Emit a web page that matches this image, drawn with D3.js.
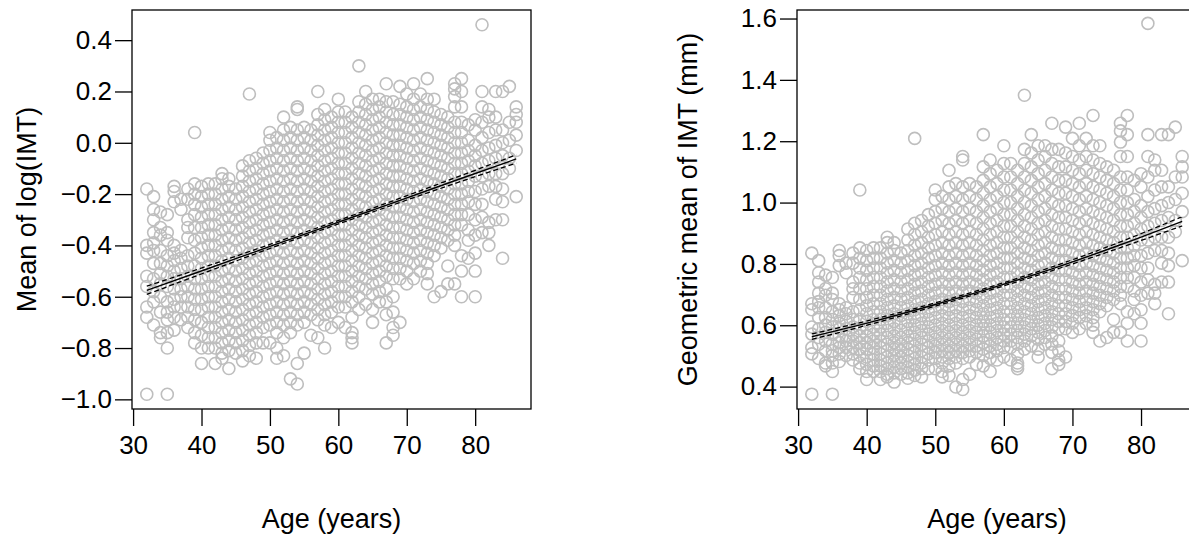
<!DOCTYPE html>
<html>
<head>
<meta charset="utf-8">
<script src="https://cdn.jsdelivr.net/npm/d3@7"></script>
<style>
  body { margin: 0; background: #fff; }
  text { font-family: "Liberation Sans", Arial, sans-serif; fill: #000; }
</style>
</head>
<body>
<svg id="chart" width="1189" height="535"></svg>
<script>
// mean log(IMT) per subject, grouped by age (years)
const ageRows = [
  [32, "-0.18 -0.40 -0.43 -0.52 -0.56 -0.64 -0.68 -0.98"],
  [33, "-0.21 -0.26 -0.30 -0.35 -0.39 -0.42 -0.47 -0.53 -0.58 -0.62 -0.71"],
  [34, "-0.27 -0.33 -0.36 -0.42 -0.47 -0.51 -0.55 -0.60 -0.66 -0.74 -0.76"],
  [35, "-0.28 -0.35 -0.38 -0.44 -0.48 -0.52 -0.56 -0.62 -0.66 -0.69 -0.74 -0.80 -0.98"],
  [36, "-0.17 -0.19 -0.23 -0.40 -0.43 -0.46 -0.50 -0.53 -0.57 -0.61 -0.64 -0.68 -0.73"],
  [37, "-0.22 -0.26 -0.42 -0.45 -0.49 -0.53 -0.57 -0.60 -0.64 -0.69"],
  [38, "-0.18 -0.22 -0.30 -0.33 -0.37 -0.44 -0.48 -0.52 -0.56 -0.60 -0.64 -0.68 -0.72"],
  [39, "0.04 -0.16 -0.20 -0.24 -0.28 -0.33 -0.38 -0.43 -0.48 -0.53 -0.57 -0.61 -0.65 -0.69 -0.74 -0.78"],
  [40, "-0.17 -0.21 -0.25 -0.29 -0.33 -0.37 -0.41 -0.45 -0.49 -0.53 -0.57 -0.61 -0.65 -0.70 -0.75 -0.80 -0.86"],
  [41, "-0.16 -0.20 -0.24 -0.28 -0.32 -0.36 -0.40 -0.44 -0.48 -0.52 -0.56 -0.60 -0.64 -0.68 -0.72 -0.76 -0.80"],
  [42, "-0.16 -0.20 -0.24 -0.28 -0.32 -0.36 -0.40 -0.44 -0.48 -0.52 -0.56 -0.60 -0.64 -0.68 -0.72 -0.76 -0.80 -0.86"],
  [43, "-0.12 -0.14 -0.18 -0.22 -0.26 -0.30 -0.34 -0.38 -0.42 -0.46 -0.50 -0.54 -0.58 -0.62 -0.66 -0.70 -0.74 -0.78 -0.82 -0.84"],
  [44, "-0.14 -0.17 -0.21 -0.25 -0.29 -0.33 -0.37 -0.41 -0.45 -0.49 -0.53 -0.57 -0.61 -0.65 -0.69 -0.73 -0.77 -0.81 -0.88"],
  [45, "-0.18 -0.22 -0.26 -0.30 -0.34 -0.38 -0.42 -0.46 -0.50 -0.54 -0.58 -0.62 -0.66 -0.70 -0.74 -0.78 -0.82"],
  [46, "-0.09 -0.13 -0.17 -0.21 -0.25 -0.29 -0.33 -0.37 -0.41 -0.45 -0.49 -0.53 -0.57 -0.61 -0.65 -0.69 -0.73 -0.77 -0.81 -0.85"],
  [47, "0.19 -0.07 -0.11 -0.15 -0.19 -0.23 -0.27 -0.31 -0.35 -0.39 -0.43 -0.47 -0.51 -0.55 -0.59 -0.63 -0.67 -0.71 -0.75 -0.79 -0.83"],
  [48, "-0.06 -0.10 -0.14 -0.18 -0.22 -0.26 -0.30 -0.34 -0.38 -0.42 -0.46 -0.50 -0.54 -0.58 -0.62 -0.66 -0.70 -0.74 -0.78 -0.84"],
  [49, "-0.04 -0.08 -0.12 -0.16 -0.20 -0.24 -0.28 -0.32 -0.36 -0.40 -0.44 -0.48 -0.52 -0.56 -0.60 -0.64 -0.68 -0.72 -0.78"],
  [50, "0.04 0.01 -0.03 -0.07 -0.11 -0.15 -0.19 -0.23 -0.27 -0.31 -0.35 -0.39 -0.43 -0.47 -0.51 -0.55 -0.59 -0.63 -0.67 -0.71 -0.78"],
  [51, "0.02 -0.02 -0.06 -0.10 -0.14 -0.18 -0.22 -0.26 -0.30 -0.34 -0.38 -0.42 -0.46 -0.50 -0.54 -0.58 -0.62 -0.66 -0.70 -0.74 -0.80 -0.84"],
  [52, "0.10 0.05 0.01 -0.03 -0.07 -0.11 -0.15 -0.19 -0.23 -0.27 -0.31 -0.35 -0.39 -0.43 -0.47 -0.51 -0.55 -0.59 -0.63 -0.67 -0.71 -0.76 -0.83"],
  [53, "0.06 0.02 -0.02 -0.06 -0.10 -0.14 -0.18 -0.22 -0.26 -0.30 -0.34 -0.38 -0.42 -0.46 -0.50 -0.54 -0.58 -0.62 -0.66 -0.70 -0.74 -0.92"],
  [54, "0.14 0.13 0.05 0.01 -0.03 -0.07 -0.11 -0.15 -0.19 -0.23 -0.27 -0.31 -0.35 -0.39 -0.43 -0.47 -0.51 -0.55 -0.59 -0.63 -0.67 -0.71 -0.86 -0.94"],
  [55, "0.06 0.02 -0.02 -0.06 -0.10 -0.14 -0.18 -0.22 -0.26 -0.30 -0.34 -0.38 -0.42 -0.46 -0.50 -0.54 -0.58 -0.62 -0.66 -0.70 -0.82"],
  [56, "0.05 0.01 -0.03 -0.07 -0.11 -0.15 -0.19 -0.23 -0.27 -0.31 -0.35 -0.39 -0.43 -0.47 -0.51 -0.55 -0.59 -0.63 -0.67 -0.75"],
  [57, "0.20 0.11 0.07 0.03 -0.01 -0.05 -0.09 -0.13 -0.17 -0.21 -0.25 -0.29 -0.33 -0.37 -0.41 -0.45 -0.49 -0.53 -0.57 -0.61 -0.65 -0.69 -0.76"],
  [58, "0.13 0.09 0.05 0.01 -0.03 -0.07 -0.11 -0.15 -0.19 -0.23 -0.27 -0.31 -0.35 -0.39 -0.43 -0.47 -0.51 -0.55 -0.59 -0.63 -0.67 -0.71 -0.80"],
  [59, "0.10 0.06 0.02 -0.02 -0.06 -0.10 -0.14 -0.18 -0.22 -0.26 -0.30 -0.34 -0.38 -0.42 -0.46 -0.50 -0.54 -0.58 -0.62 -0.66 -0.72"],
  [60, "0.17 0.12 0.08 0.04 0.00 -0.04 -0.08 -0.12 -0.16 -0.20 -0.24 -0.28 -0.32 -0.36 -0.40 -0.44 -0.48 -0.52 -0.56 -0.60 -0.64 -0.70"],
  [61, "0.12 0.08 0.04 0.00 -0.04 -0.08 -0.12 -0.16 -0.20 -0.24 -0.28 -0.32 -0.36 -0.40 -0.44 -0.48 -0.52 -0.56 -0.60 -0.64 -0.72"],
  [62, "0.10 0.06 0.02 -0.02 -0.06 -0.10 -0.14 -0.18 -0.22 -0.26 -0.30 -0.34 -0.38 -0.42 -0.46 -0.50 -0.54 -0.58 -0.62 -0.68 -0.74 -0.76 -0.78"],
  [63, "0.30 0.16 0.12 0.08 0.04 0.00 -0.04 -0.08 -0.12 -0.16 -0.20 -0.24 -0.28 -0.32 -0.36 -0.40 -0.44 -0.48 -0.52 -0.56 -0.60 -0.65"],
  [64, "0.20 0.15 0.11 0.07 0.03 -0.01 -0.05 -0.09 -0.13 -0.17 -0.21 -0.25 -0.29 -0.33 -0.37 -0.41 -0.45 -0.49 -0.53 -0.57 -0.63"],
  [65, "0.17 0.13 0.09 0.05 0.01 -0.03 -0.07 -0.11 -0.15 -0.19 -0.23 -0.27 -0.31 -0.35 -0.39 -0.43 -0.47 -0.51 -0.55 -0.59 -0.65 -0.70"],
  [66, "0.17 0.14 0.10 0.06 0.02 -0.02 -0.06 -0.10 -0.14 -0.18 -0.22 -0.26 -0.30 -0.34 -0.38 -0.42 -0.46 -0.50 -0.54 -0.58 -0.62"],
  [67, "0.23 0.16 0.12 0.08 0.04 0.00 -0.04 -0.08 -0.12 -0.16 -0.20 -0.24 -0.28 -0.32 -0.36 -0.40 -0.44 -0.48 -0.52 -0.57 -0.62 -0.67 -0.78"],
  [68, "0.16 0.11 0.07 0.03 -0.01 -0.05 -0.09 -0.13 -0.17 -0.21 -0.25 -0.29 -0.33 -0.37 -0.41 -0.45 -0.49 -0.53 -0.60 -0.66 -0.72 -0.75"],
  [69, "0.22 0.15 0.11 0.07 0.03 -0.01 -0.05 -0.09 -0.13 -0.17 -0.21 -0.25 -0.29 -0.33 -0.37 -0.41 -0.45 -0.49 -0.53 -0.70"],
  [70, "0.19 0.14 0.10 0.06 0.02 -0.02 -0.06 -0.10 -0.14 -0.18 -0.22 -0.26 -0.30 -0.34 -0.38 -0.42 -0.46 -0.50 -0.55"],
  [71, "0.23 0.17 0.13 0.09 0.05 0.01 -0.03 -0.07 -0.11 -0.15 -0.19 -0.23 -0.27 -0.31 -0.35 -0.39 -0.43 -0.47 -0.53"],
  [72, "0.19 0.14 0.10 0.06 0.02 -0.02 -0.06 -0.10 -0.14 -0.18 -0.22 -0.26 -0.30 -0.34 -0.38 -0.42 -0.46 -0.50"],
  [73, "0.25 0.17 0.13 0.09 0.05 0.01 -0.03 -0.07 -0.11 -0.15 -0.19 -0.23 -0.27 -0.31 -0.35 -0.39 -0.43 -0.47 -0.51 -0.55"],
  [74, "0.17 0.12 0.08 0.04 0.00 -0.04 -0.08 -0.12 -0.16 -0.20 -0.24 -0.28 -0.32 -0.36 -0.40 -0.44 -0.60"],
  [75, "0.11 0.07 0.03 -0.01 -0.05 -0.09 -0.13 -0.17 -0.21 -0.25 -0.29 -0.33 -0.37 -0.41 -0.58"],
  [76, "0.10 0.06 0.02 -0.02 -0.06 -0.10 -0.14 -0.18 -0.22 -0.26 -0.30 -0.34 -0.38 -0.48 -0.55"],
  [77, "0.23 0.21 0.18 0.14 0.08 0.04 0.00 -0.04 -0.08 -0.12 -0.16 -0.20 -0.24 -0.28 -0.32 -0.36 -0.40 -0.55"],
  [78, "0.25 0.20 0.14 0.08 0.04 0.00 -0.04 -0.08 -0.12 -0.16 -0.20 -0.24 -0.28 -0.32 -0.44 -0.50 -0.60"],
  [79, "0.07 0.01 -0.03 -0.07 -0.11 -0.15 -0.19 -0.23 -0.28 -0.34 -0.38 -0.45"],
  [80, "0.09 0.05 -0.01 -0.05 -0.09 -0.13 -0.19 -0.24 -0.30 -0.36 -0.43 -0.50 -0.60"],
  [81, "0.46 0.20 0.14 0.08 0.02 -0.03 -0.08 -0.13 -0.18 -0.24 -0.29 -0.35"],
  [82, "0.13 0.10 0.04 -0.02 -0.07 -0.12 -0.17 -0.31 -0.35 -0.40"],
  [83, "0.20 0.10 0.05 -0.01 -0.06 -0.12 -0.17 -0.22 -0.30"],
  [84, "0.20 0.05 0.00 -0.05 -0.12 -0.18 -0.23 -0.30 -0.45"],
  [85, "0.22 0.08 0.01 -0.06 -0.10"],
  [86, "0.14 0.11 0.08 0.03 -0.03 -0.21"]
];

// fitted regression line and 95% band (log scale)
const fitAge   = [32, 41, 50, 59, 68, 77, 86];
const fitMid   = [-0.575, -0.490, -0.404, -0.319, -0.234, -0.148, -0.063];
const fitLower = [-0.591, -0.501, -0.412, -0.326, -0.242, -0.159, -0.079];
const fitUpper = [-0.559, -0.479, -0.396, -0.312, -0.226, -0.137, -0.047];

const xTicks = [30, 40, 50, 60, 70, 80];
const yTicksLeft = [-1.0, -0.8, -0.6, -0.4, -0.2, 0.0, 0.2, 0.4];
const yTicksRight = [0.4, 0.6, 0.8, 1.0, 1.2, 1.4, 1.6];

const points = [];
ageRows.forEach(([age, s]) => s.split(" ").forEach(v => points.push({age: age, v: +v})));

const svg = d3.select("#chart");

function drawPanel(o) {
  const x = d3.scaleLinear().domain([29.84, 88.16]).range([o.left, o.right]);
  const y = d3.scaleLinear().domain(o.yDomain).range([409, 10]);
  const g = svg.append("g");

  g.selectAll("circle.pt")
    .data(points)
    .enter().append("circle")
    .attr("class", "pt")
    .attr("cx", d => x(d.age))
    .attr("cy", d => y(o.f(d.v)))
    .attr("r", 6)
    .attr("fill", "none")
    .attr("stroke", "#bebebe")
    .attr("stroke-width", 1.6);

  const line = (arr) => d3.line()
    .x((d, i) => x(fitAge[i]))
    .y(d => y(o.f(d)))
    .curve(d3.curveMonotoneX)(arr);

  g.append("path").attr("d", line(fitMid))
    .attr("fill", "none").attr("stroke", "#000").attr("stroke-width", 1.4);
  [fitLower, fitUpper].forEach(arr => {
    g.append("path").attr("d", line(arr))
      .attr("fill", "none").attr("stroke", "#000").attr("stroke-width", 1.3)
      .attr("stroke-dasharray", "5,3");
  });

  g.append("rect")
    .attr("x", o.left).attr("y", 10)
    .attr("width", o.right - o.left).attr("height", 399)
    .attr("fill", "none").attr("stroke", "#000").attr("stroke-width", 1.3);

  const xa = g.append("g")
    .attr("transform", "translate(0,409)")
    .call(d3.axisBottom(x).tickValues(xTicks).tickSize(17).tickPadding(10).tickSizeOuter(0));
  xa.select(".domain").remove();

  const ya = g.append("g")
    .attr("transform", `translate(${o.left},0)`)
    .call(d3.axisLeft(y).tickValues(o.yTicks).tickFormat(d3.format(".1f")).tickSize(17).tickPadding(3).tickSizeOuter(0));
  ya.select(".domain").remove();

  g.selectAll(".tick text").attr("font-size", null).style("font-size", "26px")
    .style("font-family", "Liberation Sans, Arial, sans-serif")
    .text(function() { return this.textContent.replace("-", "\u2212"); });
  g.selectAll(".tick line").attr("stroke", "#000").attr("stroke-width", 1.3);

  g.append("text")
    .attr("x", (o.left + o.right) / 2).attr("y", 528)
    .attr("text-anchor", "middle").style("font-size", "27px")
    .text("Age (years)");
  g.append("text")
    .attr("transform", `translate(${o.titleX},209.5) rotate(-90)`)
    .attr("text-anchor", "middle").attr("dy", "0.35em").style("font-size", "27px")
    .text(o.title);
}

drawPanel({left: 132, right: 531, titleX: 27,
  yDomain: [-1.0376, 0.5176], yTicks: yTicksLeft, f: v => v, title: "Mean of log(IMT)"});
drawPanel({left: 797, right: 1197, titleX: 688,
  yDomain: [0.327, 1.6278], yTicks: yTicksRight, f: v => Math.exp(v), title: "Geometric mean of IMT (mm)"});
</script>
</body>
</html>
